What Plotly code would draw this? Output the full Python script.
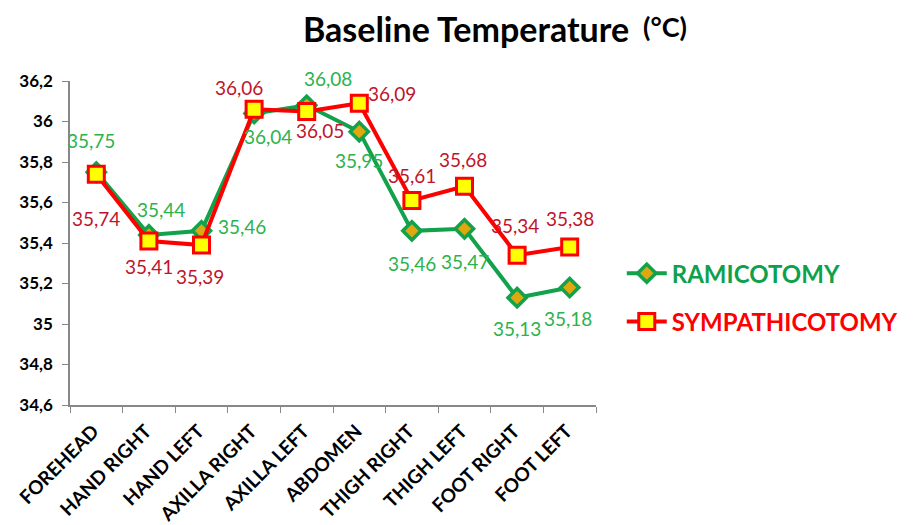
import plotly.graph_objects as go

categories = ["FOREHEAD", "HAND RIGHT", "HAND LEFT", "AXILLA RIGHT", "AXILLA LEFT",
              "ABDOMEN", "THIGH RIGHT", "THIGH LEFT", "FOOT RIGHT", "FOOT LEFT"]
ramicotomy = [35.75, 35.44, 35.46, 36.04, 36.08, 35.95, 35.46, 35.47, 35.13, 35.18]
sympathicotomy = [35.74, 35.41, 35.39, 36.06, 36.05, 36.09, 35.61, 35.68, 35.34, 35.38]

# label offsets (pixels) for data labels
ram_shift = [(-5, 32), (12, 25), (40, 4), (14, -23), (21, 27), (0, -29), (0, -33), (0, -33), (0, -31), (-2, -31)]
sym_shift = [(0, -44), (0, -26), (-2, -31), (-15, 22), (13, -19), (33, 10), (0, 25), (-2, 27), (-2, 30), (0, 29)]

GREEN = "#12A24B"
RED = "#FF0000"
GREEN_TXT = "#2BB34C"
RED_TXT = "#C0142B"
LEG_GREEN = "#0EA14C"
FONT = "Lato"

fig = go.Figure()
fig.add_trace(go.Scatter(
    x=categories, y=ramicotomy, mode="lines+markers",
    name=f"<b><span style='color:{LEG_GREEN}'>RAMICOTOMY</span></b>",
    line=dict(color=GREEN, width=4),
    marker=dict(symbol="diamond", size=14, color="#E0A810", line=dict(color=GREEN, width=3.5)),
    legendgroup="a"))
fig.add_trace(go.Scatter(
    x=categories, y=sympathicotomy, mode="lines+markers",
    name=f"<b><span style='color:{RED}'>SYMPATHICOTOMY</span></b>",
    line=dict(color=RED, width=4),
    marker=dict(symbol="square", size=16, color="#FFFF00", line=dict(color=RED, width=3)),
    legendgroup="b"))

def fmt(v):
    return f"{v:.2f}".replace(".", ",")

for vals, shifts, col in [(ramicotomy, ram_shift, GREEN_TXT), (sympathicotomy, sym_shift, RED_TXT)]:
    for c, v, (dx, dy) in zip(categories, vals, shifts):
        fig.add_annotation(x=c, y=v, text=fmt(v), showarrow=False, xshift=dx, yshift=dy,
                           font=dict(family=FONT, size=19, color=col))

# unit part of the title
fig.add_annotation(xref="paper", yref="paper", x=1.0855, y=1.167, xanchor="left", yanchor="middle",
                   text="<b>(°C)</b>", showarrow=False,
                   font=dict(family=FONT, size=27, color="black"))

fig.update_layout(
    width=908, height=517,
    margin=dict(l=62, r=320, t=73, b=120, autoexpand=False),
    plot_bgcolor="white", paper_bgcolor="white",
    separators=",.",
    title=dict(text="<b>Baseline Temperature</b>", x=0.5044, xanchor="center",
               y=0.957, yanchor="middle",
               font=dict(family=FONT, size=34, color="black")),
    font=dict(family=FONT),
    showlegend=True,
    legend=dict(x=1.049, y=0.475, xanchor="left", yanchor="top", traceorder="grouped",
                tracegroupgap=14, itemwidth=40,
                font=dict(family=FONT, size=24)),
    xaxis=dict(range=[-0.5, 9.5], showline=True, linecolor="#888888", linewidth=1.5, ticks="outside",
               tickson="boundaries", ticklen=6, tickcolor="#888888", tickangle=-45,
               showgrid=False, automargin=False, ticklabelstandoff=6, ticklabelshift=-3,
               tickfont=dict(family=FONT, size=19, color="black", weight="bold")),
    yaxis=dict(range=[34.6, 36.2], dtick=0.2, showline=True, linecolor="#888888", linewidth=1.5,
               ticks="outside", ticklen=6, tickcolor="#888888", showgrid=False, zeroline=False,
               automargin=False, ticklabelstandoff=6,
               tickfont=dict(family=FONT, size=17, color="black", weight="bold")),
)

fig.write_html("out.html")
